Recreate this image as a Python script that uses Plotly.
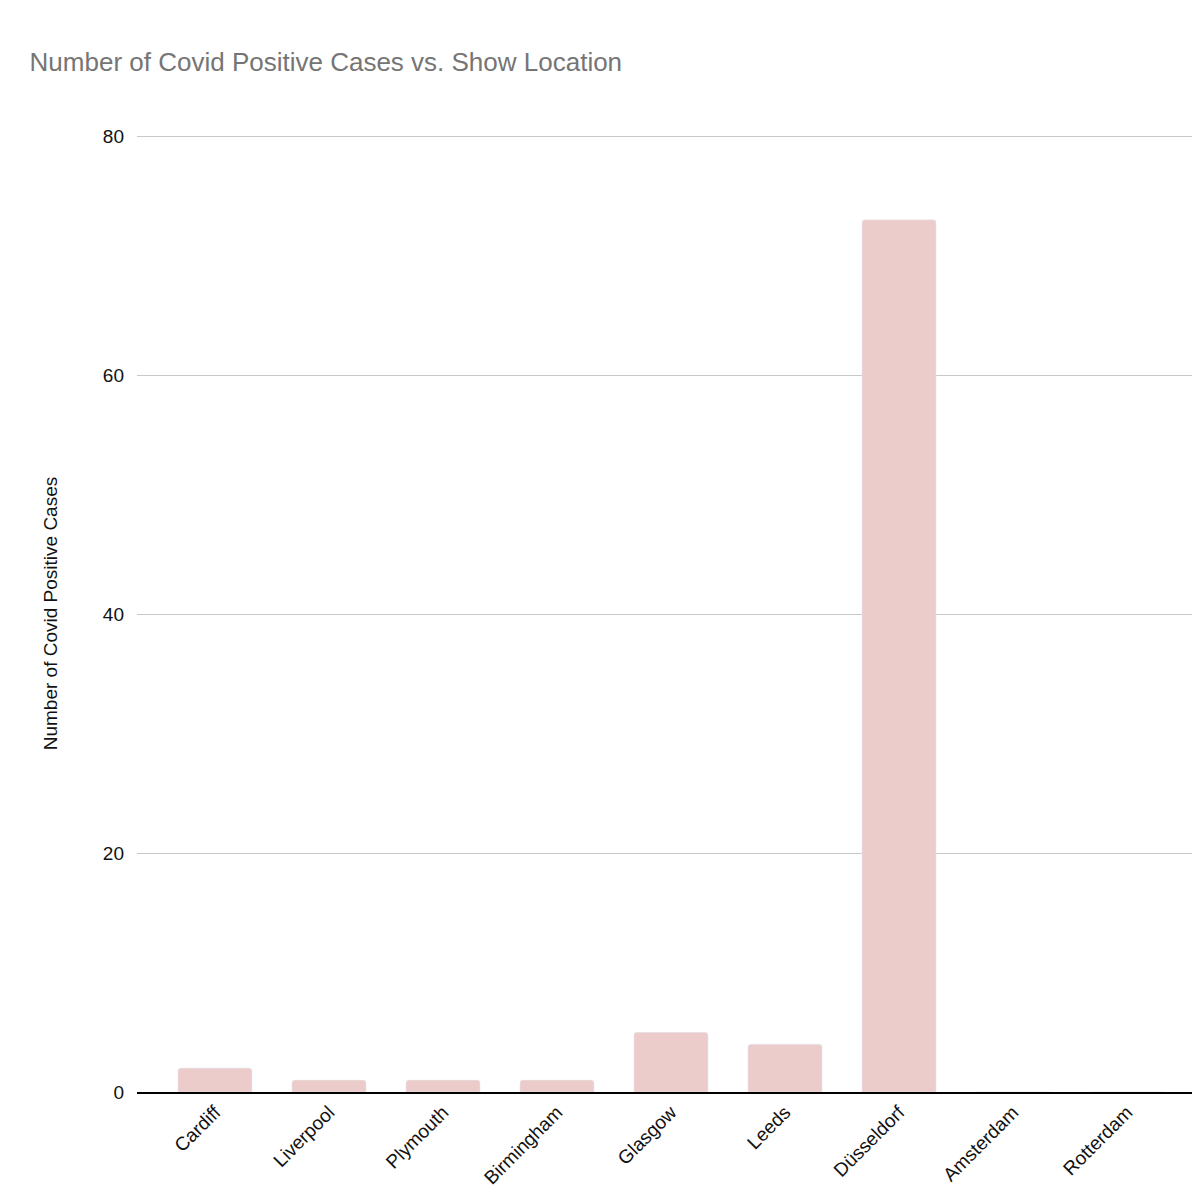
import plotly.graph_objects as go

cities = ["Cardiff","Liverpool","Plymouth","Birmingham","Glasgow","Leeds","Düsseldorf","Amsterdam","Rotterdam"]
cases = [2,1,1,1,5,4,73,0,0]

fig = go.Figure(go.Bar(x=cities, y=cases, marker=dict(color="#eccccb", cornerradius=3), width=0.65))
fig.update_layout(
    width=1200, height=1200, plot_bgcolor="white", paper_bgcolor="white",
    margin=dict(l=129, r=8, t=127, b=116),
    font=dict(family="Liberation Sans, Arial, sans-serif", size=19, color="#111"),
    title=dict(text="Number of Covid Positive Cases vs. Show Location", x=0.018, xanchor="left",
               y=0.955, yanchor="middle", font=dict(size=26, color="#757575")),
    showlegend=False,
)
fig.update_xaxes(range=[-0.684, 8.64], tickangle=-45, showline=True, linecolor="black", linewidth=1.5,
                 showgrid=False, ticks="")
fig.update_yaxes(range=[0, 80.1], tickvals=[0, 20, 40, 60, 80], gridcolor="#c8c8c8", gridwidth=1.2,
                 zeroline=False, ticklabelstandoff=12,
                 title=dict(text="Number of Covid Positive Cases", font=dict(size=19), standoff=40))
fig.write_html("out.html")
